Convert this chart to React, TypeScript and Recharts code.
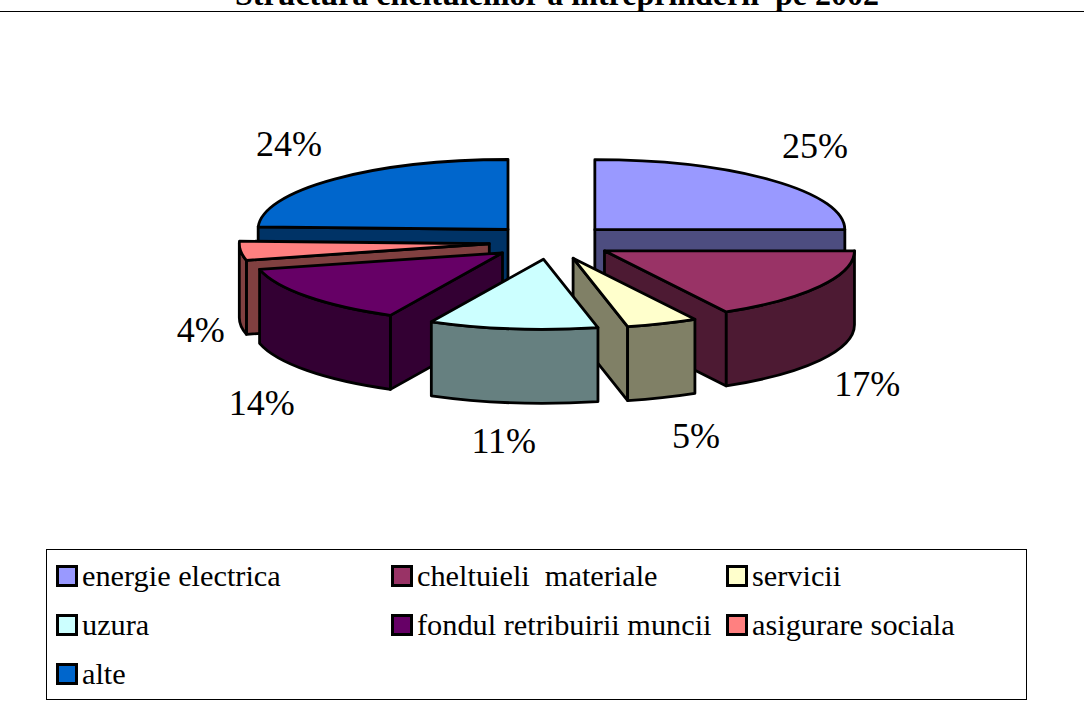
import React from "react";
import { PieChart, Pie, Legend } from "recharts";

const categories = ["energie electrica", "cheltuieli  materiale", "servicii", "uzura", "fondul retribuirii muncii", "asigurare sociala", "alte"];
const shares = [25, 16.9, 4.6, 10.9, 13.8, 4.4, 24.4];
const topColors = ["#9999FF", "#993366", "#FFFFCC", "#CCFFFF", "#660066", "#FF8080", "#0066CC"];
const sideColors = ["#4D4D80", "#4D1A33", "#808066", "#668080", "#330033", "#804040", "#003366"];
const paintOrder = [6, 0, 5, 1, 4, 2, 3];
const labelNudges = [[8, -5], [4, 3], [16, -1], [-3, -3], [-6, 6], [10, 1], [-11, -5]];

const rows = categories.map((name, i) => ({ name, value: shares[i], fill: topColors[i] }));

const SQUASH = 0.28;
const DEPTH = 74;
const EXPLODE = 62;
const RAD = Math.PI / 180;
const FONT = '"Liberation Serif", "Times New Roman", serif';

const unit = (clock: number) => ({ x: Math.sin(clock * RAD), y: -Math.cos(clock * RAD) * SQUASH });

function Wedge(props: any) {
  const { cx, cy, outerRadius: r, startAngle, endAngle, midAngle, index } = props;
  const c0 = 90 - startAngle;
  const c1 = 90 - endAngle;
  const mid = unit(90 - midAngle);
  const ax = cx + mid.x * EXPLODE;
  const ay = cy + mid.y * EXPLODE;
  const pt = (clock: number, drop = 0) => {
    const u = unit(clock);
    return { x: ax + u.x * r, y: ay + u.y * r + drop };
  };
  const arc = (from: number, to: number, drop: number, sweep: number) => {
    const e = pt(to, drop);
    const large = Math.abs(to - from) > 180 ? 1 : 0;
    return `A${r} ${r * SQUASH} 0 ${large} ${sweep} ${e.x} ${e.y}`;
  };
  const line = { stroke: "#000", strokeWidth: 2.8, strokeLinejoin: "round" as const };
  const radial = (clock: number) => {
    const p = pt(clock);
    return `M${ax} ${ay}L${p.x} ${p.y}L${p.x} ${p.y + DEPTH}L${ax} ${ay + DEPTH}Z`;
  };
  const wallFrom = Math.max(c0, 90);
  const wallTo = Math.min(c1, 270);
  const s = pt(c0);
  const f = pt(wallFrom);
  const g = pt(wallTo);
  return (
    <g>
      {Math.sin(c0 * RAD) < 0 && <path d={radial(c0)} fill={sideColors[index]} {...line} />}
      {Math.sin(c1 * RAD) > 0 && <path d={radial(c1)} fill={sideColors[index]} {...line} />}
      {wallTo > wallFrom && (
        <path
          d={`M${f.x} ${f.y}${arc(wallFrom, wallTo, 0, 1)}L${g.x} ${g.y + DEPTH}${arc(wallTo, wallFrom, DEPTH, 0)}Z`}
          fill={sideColors[index]}
          {...line}
        />
      )}
      <path d={`M${ax} ${ay}L${s.x} ${s.y}${arc(c0, c1, 0, 1)}Z`} fill={topColors[index]} {...line} />
    </g>
  );
}

function PercentLabel(props: any) {
  const { cx, cy, midAngle, percent, index } = props;
  const m = unit(90 - midAngle);
  const x = cx + m.x * (EXPLODE + 300) + labelNudges[index][0];
  const base = cy + m.y * EXPLODE + (m.y / SQUASH) * 112;
  const y = base + (m.y > 0 || Math.abs(m.y) < 0.03 ? DEPTH : 0) + labelNudges[index][1];
  return (
    <text x={x} y={y} textAnchor="middle" dominantBaseline="central" fontFamily={FONT} fontSize={36} fill="#000">
      {Math.round(percent * 100)}%
    </text>
  );
}

function LegendBox() {
  return (
    <div
      style={{
        boxSizing: "border-box",
        width: 981,
        height: 151,
        border: "1px solid #000",
        background: "#fff",
        position: "relative",
        fontFamily: FONT,
        fontSize: 30.3,
        color: "#000",
      }}
    >
      {categories.map((name, i) => (
        <div
          key={name}
          style={{
            position: "absolute",
            left: [9, 344, 679][i % 3],
            top: 4 + Math.floor(i / 3) * 49,
            height: 44,
            display: "flex",
            alignItems: "center",
            whiteSpace: "pre",
          }}
        >
          <span
            style={{
              boxSizing: "border-box",
              width: 22,
              height: 22,
              border: "3px solid #000",
              background: topColors[i],
              marginRight: 4,
            }}
          />
          {name}
        </div>
      ))}
    </div>
  );
}

export default function App() {
  return (
    <div style={{ position: "absolute", left: 0, top: 0, width: 1084, height: 702, overflow: "hidden", background: "#fff" }}>
      <div
        style={{
          position: "absolute",
          left: 0,
          top: -25,
          width: 1114,
          height: 36,
          borderBottom: "1px solid #000",
          textAlign: "center",
          fontFamily: FONT,
          fontWeight: "bold",
          fontSize: 32,
          lineHeight: "38px",
          whiteSpace: "pre",
          color: "#000",
        }}
      >
        Structura cheltuielilor a intreprinderii  pe 2002
      </div>
      <PieChart width={1084} height={702} margin={{ top: 0, right: 0, bottom: 0, left: 0 }}>
        {paintOrder.map((target, k) => (
          <Pie
            key={target}
            data={rows}
            dataKey="value"
            nameKey="name"
            cx={551}
            cy={242}
            outerRadius={250}
            startAngle={90}
            endAngle={-270}
            stroke="none"
            legendType="none"
            isAnimationActive={false}
            labelLine={false}
            label={k === paintOrder.length - 1 ? PercentLabel : false}
            shape={(p: any) => (p.index === target ? <Wedge {...p} /> : <g />)}
          />
        ))}
        <Legend
          content={<LegendBox />}
          wrapperStyle={{ position: "absolute", left: 46, top: 549, width: 981, height: 151, bottom: "auto" }}
        />
      </PieChart>
    </div>
  );
}
